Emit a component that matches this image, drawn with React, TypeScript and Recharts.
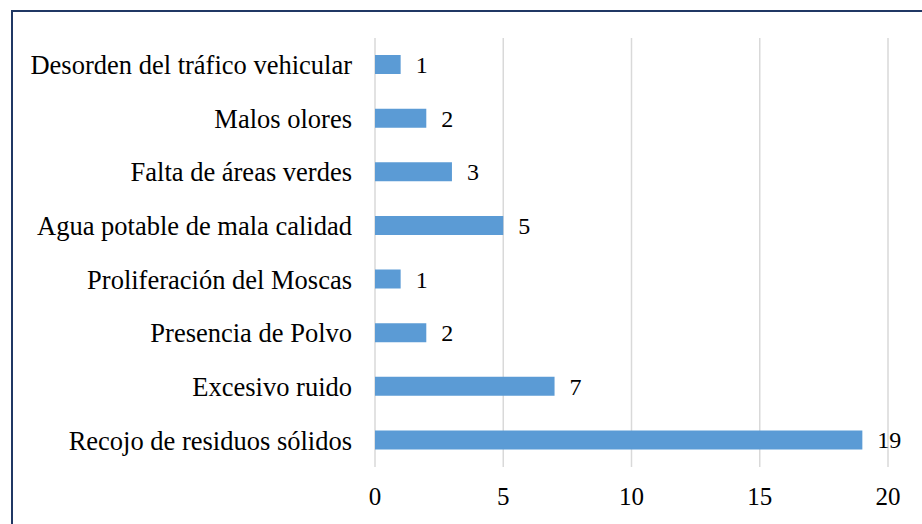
import { BarChart, Bar, XAxis, YAxis, CartesianGrid, LabelList } from "recharts";

const categories = [
  "Desorden del tráfico vehicular",
  "Malos olores",
  "Falta de áreas verdes",
  "Agua potable de mala calidad",
  "Proliferación del Moscas",
  "Presencia de Polvo",
  "Excesivo ruido",
  "Recojo de residuos sólidos",
];
const counts = [1, 2, 3, 5, 1, 2, 7, 19];
const xTicks = [0, 5, 10, 15, 20];

const data = categories.map((name, i) => ({ name, value: counts[i] }));

const font = "'Liberation Serif', 'Times New Roman', serif";

export default function App() {
  return (
    <div style={{ position: "fixed", left: 0, top: 0, width: 922, height: 524, background: "#fff", overflow: "hidden" }}>
      <div
        style={{
          position: "absolute",
          left: 11,
          top: 10,
          width: 920,
          height: 520,
          border: "2px solid #203864",
        }}
      />
      <div style={{ position: "absolute", left: 0, top: 0 }}>
        <BarChart
          width={922}
          height={524}
          data={data}
          layout="vertical"
          margin={{ top: 38, right: 34, left: 0, bottom: 17 }}
        >
          <CartesianGrid horizontal={false} stroke="#d9d9d9" strokeWidth={1.5} />
          <XAxis
            type="number"
            domain={[0, 20]}
            ticks={xTicks}
            axisLine={false}
            tickLine={false}
            height={40}
            tickMargin={14}
            tick={{ fill: "#000", fontSize: 25, fontFamily: font }}
          />
          <YAxis
            type="category"
            dataKey="name"
            width={375}
            axisLine={false}
            tickLine={false}
            tickMargin={17}
            tick={{ fill: "#000", fontSize: 26.5, fontFamily: font }}
          />
          <Bar dataKey="value" fill="#5b9bd5" barSize={19} isAnimationActive={false}>
            <LabelList
              dataKey="value"
              position="right"
              offset={15}
              style={{ fill: "#000", fontSize: 24, fontFamily: font }}
            />
          </Bar>
        </BarChart>
      </div>
    </div>
  );
}
